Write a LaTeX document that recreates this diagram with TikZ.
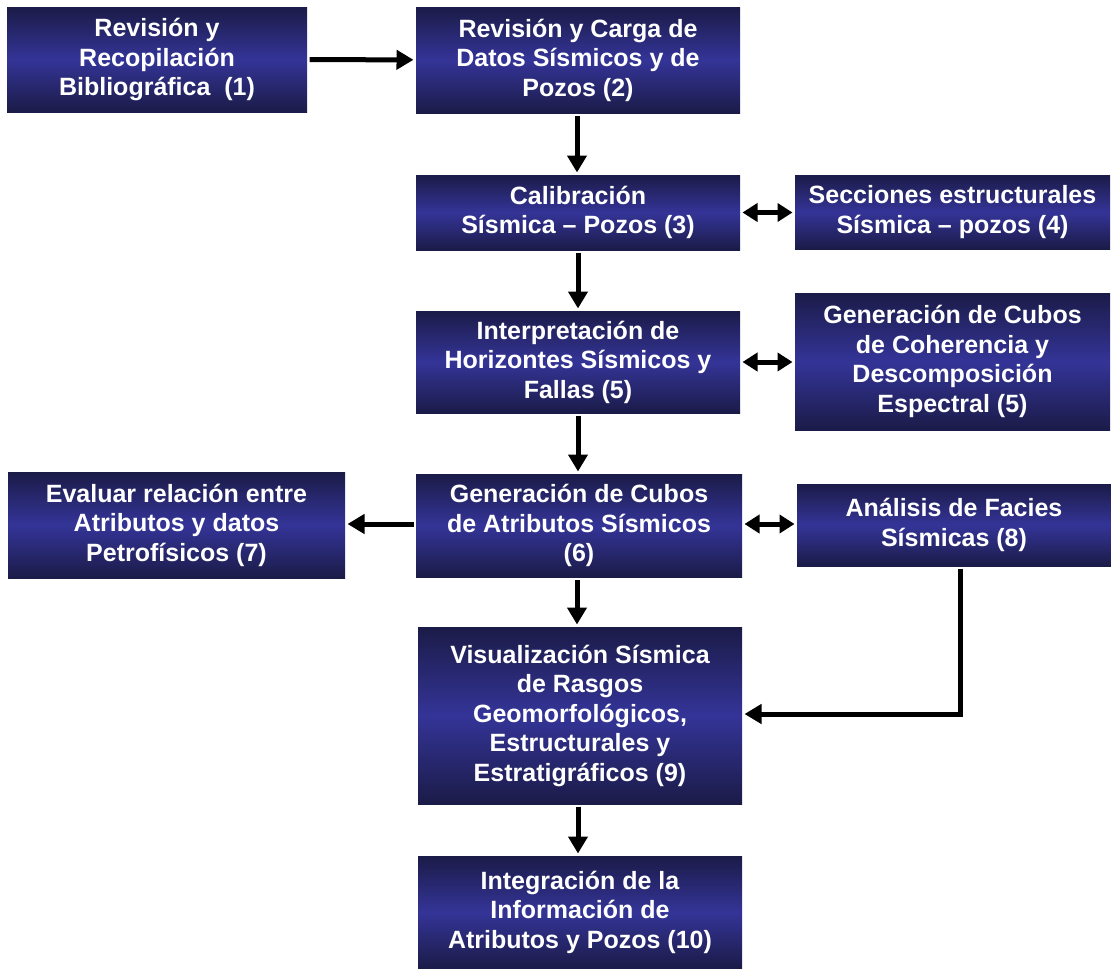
\documentclass[tikz,border=0pt]{standalone}
\usepackage{fontspec}
\setmainfont{Liberation Sans}
\usetikzlibrary{arrows.meta}
\definecolor{boxdark}{RGB}{27,27,72}
\definecolor{boxmid}{RGB}{52,52,152}

\begin{document}
\begin{tikzpicture}[x=1pt,y=-1pt,-{Triangle[length=17pt,width=19pt]},line width=5pt,
  main node/.style={rectangle,top color=boxdark,bottom color=boxdark,middle color=boxmid,
    text=white,font=\fontsize{25}{29.5}\selectfont\bfseries,align=center,inner sep=0pt},
  both/.style={{Triangle[length=15pt,width=18pt]}-{Triangle[length=15pt,width=18pt]}}]
  \useasboundingbox (0,0) rectangle (1111,969);
  \node[main node,minimum width=300,minimum height=105] (revision) at (157,59.5)
    {Revisión y\\Recopilación\\Bibliográfica~~(1)};
  \node[main node,minimum width=324,minimum height=106] (carga) at (578,60)
    {Revisión y Carga de\\Datos Sísmicos y de\\Pozos (2)};
  \node[main node,minimum width=324,minimum height=75] (calib) at (578,212.5)
    {Calibración\\Sísmica – Pozos (3)};
  \node[main node,minimum width=315,minimum height=74] (secciones) at (952.5,212)
    {Secciones estructurales\\Sísmica – pozos (4)};
  \node[main node,minimum width=324,minimum height=102] (interp) at (578,362)
    {Interpretación de\\Horizontes Sísmicos y\\Fallas (5)};
  \node[main node,minimum width=315,minimum height=137] (coherencia) at (952.5,361.5)
    {Generación de Cubos\\de Coherencia y\\Descomposición\\Espectral (5)};
  \node[main node,minimum width=326,minimum height=103] (atributos) at (579,525.5)
    {Generación de Cubos\\de Atributos Sísmicos\\(6)};
  \node[main node,minimum width=337,minimum height=106] (evaluar) at (176.5,525)
    {Evaluar relación entre\\Atributos y datos\\Petrofísicos (7)};
  \node[main node,minimum width=314,minimum height=82] (facies) at (954,525)
    {Análisis de Facies\\Sísmicas (8)};
  \node[main node,minimum width=324,minimum height=177] (visual) at (580,715.5)
    {Visualización Sísmica\\de Rasgos\\Geomorfológicos,\\Estructurales y\\Estratigráficos (9)};
  \node[main node,minimum width=324,minimum height=112] (integra) at (580,912)
    {Integración de la\\Información de\\Atributos y Pozos (10)};
  % conectores
  \draw (revision) -- (carga);
  \draw (carga.south -| 577,0) -- (calib.north -| 577,0);
  \draw (calib.south -| 578,0) -- (interp.north -| 578,0);
  \draw (interp.south -| 578,0) -- (atributos.north -| 578,0);
  \draw (atributos.south -| 577,0) -- (visual.north -| 577,0);
  \draw (visual.south -| 578,0) -- (integra.north -| 578,0);
  \draw[both] (calib) -- (secciones.west |- calib);
  \draw[both] (interp) -- (coherencia.west |- interp);
  \draw[both] (atributos.east |- 0,524) -- (facies.west |- 0,524);
  \draw (atributos.west |- 0,524) -- (evaluar.east |- 0,524);
  \draw (facies.south -| 960,0) |- (visual.east |- 0,714);
\end{tikzpicture}
\end{document}
